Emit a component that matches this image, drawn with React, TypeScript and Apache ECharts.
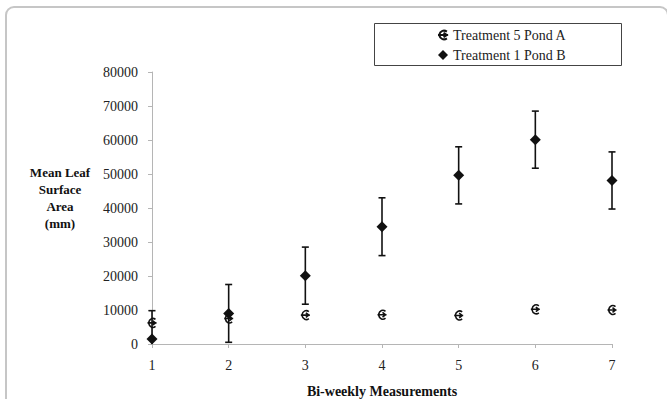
import React, { useEffect, useRef } from "react";
import * as echarts from "echarts";

const measurements = [1, 2, 3, 4, 5, 6, 7];
const pondA = [6200, 7500, 8500, 8600, 8400, 10200, 10000];
const pondB = [1500, 9000, 20100, 34500, 49600, 60100, 48100];
const pondBErr = [8300, 8500, 8400, 8500, 8400, 8400, 8400];
const yTicks = { min: 0, max: 80000, interval: 10000 };
const seriesNames = ["Treatment 5 Pond A", "Treatment 1 Pond B"];

const FONT = "'Liberation Serif', 'Times New Roman', 'DejaVu Serif', serif";
const markerA =
  "path://M8.5,2 C6,0.2 2.5,1 1.5,5 C2.5,9 6,9.8 8.5,8 M0.5,5 L9.5,5 M5.5,3 L8.5,5 L5.5,7";

export default function App() {
  const ref = useRef<HTMLDivElement>(null);
  useEffect(() => {
    if (!ref.current) return;
    const chart = echarts.init(ref.current, null, { renderer: "svg" });
    const errData = measurements.map((m, i) => [
      m,
      Math.max(0, pondB[i] - pondBErr[i]),
      pondB[i] + pondBErr[i],
      pondB[i] - pondBErr[i] >= 0 ? 1 : 0,
    ]);
    chart.setOption({
      animation: false,
      backgroundColor: "#fff",
      textStyle: { fontFamily: FONT },
      grid: {
        left: 152,
        right: 55,
        top: 72,
        bottom: 55,
        containLabel: false,
        outerBoundsMode: "none",
      },
      legend: {
        left: 432,
        top: 23,
        padding: 5,
        orient: "vertical",
        itemWidth: 10,
        itemHeight: 10,
        itemGap: 6,
        textStyle: { fontFamily: FONT, fontSize: 14, color: "#222", lineHeight: 14 },
        data: [
          { name: seriesNames[0], icon: markerA },
          { name: seriesNames[1], icon: "diamond" },
        ],
      },
      xAxis: {
        type: "value",
        min: 1,
        max: 7,
        interval: 1,
        name: "Bi-weekly Measurements",
        nameLocation: "middle",
        nameGap: 40,
        nameTextStyle: { fontFamily: FONT, fontSize: 14, fontWeight: "bold", color: "#111" },
        axisLine: { show: true, onZero: false, lineStyle: { color: "#b5b5b5", width: 1 } },
        axisTick: { show: true, length: 4, lineStyle: { color: "#b5b5b5" } },
        axisLabel: { margin: 14, fontFamily: FONT, fontSize: 14, color: "#222" },
        splitLine: { show: false },
      },
      yAxis: {
        type: "value",
        min: yTicks.min,
        max: yTicks.max,
        interval: yTicks.interval,
        axisLine: { show: true, lineStyle: { color: "#b5b5b5", width: 1 } },
        axisTick: { show: true, length: 4, lineStyle: { color: "#b5b5b5" } },
        axisLabel: {
          margin: 14,
          fontFamily: FONT,
          fontSize: 14,
          color: "#222",
          formatter: (v: number) => String(v),
        },
        splitLine: { show: false },
      },
      graphic: [
        {
          type: "rect",
          silent: true,
          shape: { x: 6, y: 7, width: 662, height: 430, r: 8 },
          style: { fill: "none", stroke: "#c6c6c6", lineWidth: 2 },
        },
        {
          type: "rect",
          silent: true,
          shape: { x: 374.5, y: 23.5, width: 247, height: 42 },
          style: { fill: "none", stroke: "#444", lineWidth: 1 },
        },
        {
          type: "text",
          silent: true,
          x: 60,
          y: 164,
          style: {
            text: "Mean Leaf\nSurface\nArea\n(mm)",
            fontFamily: FONT,
            fontSize: 13,
            fontWeight: "bold",
            textAlign: "center",
            textVerticalAlign: "top",
            lineHeight: 17,
            fill: "#111",
          },
        },
      ],
      series: [
        {
          name: "errB",
          type: "custom",
          z: 1,
          silent: true,
          data: errData,
          renderItem: (params: any, api: any) => {
            const lo = api.coord([api.value(0), api.value(1)]);
            const hi = api.coord([api.value(0), api.value(2)]);
            const cap = 3.5;
            const st = { stroke: "#111", lineWidth: 1.6 };
            const children: any[] = [
              { type: "line", shape: { x1: hi[0], y1: hi[1], x2: lo[0], y2: lo[1] }, style: st },
              { type: "line", shape: { x1: hi[0] - cap, y1: hi[1], x2: hi[0] + cap, y2: hi[1] }, style: st },
            ];
            if (api.value(3) === 1) {
              children.push({
                type: "line",
                shape: { x1: lo[0] - cap, y1: lo[1], x2: lo[0] + cap, y2: lo[1] },
                style: st,
              });
            }
            return { type: "group", children };
          },
        },
        {
          name: seriesNames[1],
          type: "scatter",
          z: 3,
          symbol: "diamond",
          symbolSize: 11,
          itemStyle: { color: "#111", opacity: 1 },
          data: measurements.map((m, i) => [m, pondB[i]]),
        },
        {
          name: seriesNames[0],
          type: "scatter",
          z: 4,
          symbol: markerA,
          symbolSize: 9,
          itemStyle: { color: "transparent", borderColor: "#111", borderWidth: 1.6, opacity: 1 },
          data: measurements.map((m, i) => [m, pondA[i]]),
        },
      ],
    });
    return () => chart.dispose();
  }, []);
  return (
    <div
      ref={ref}
      style={{ position: "fixed", left: 0, top: 0, width: 667, height: 399 }}
    />
  );
}
